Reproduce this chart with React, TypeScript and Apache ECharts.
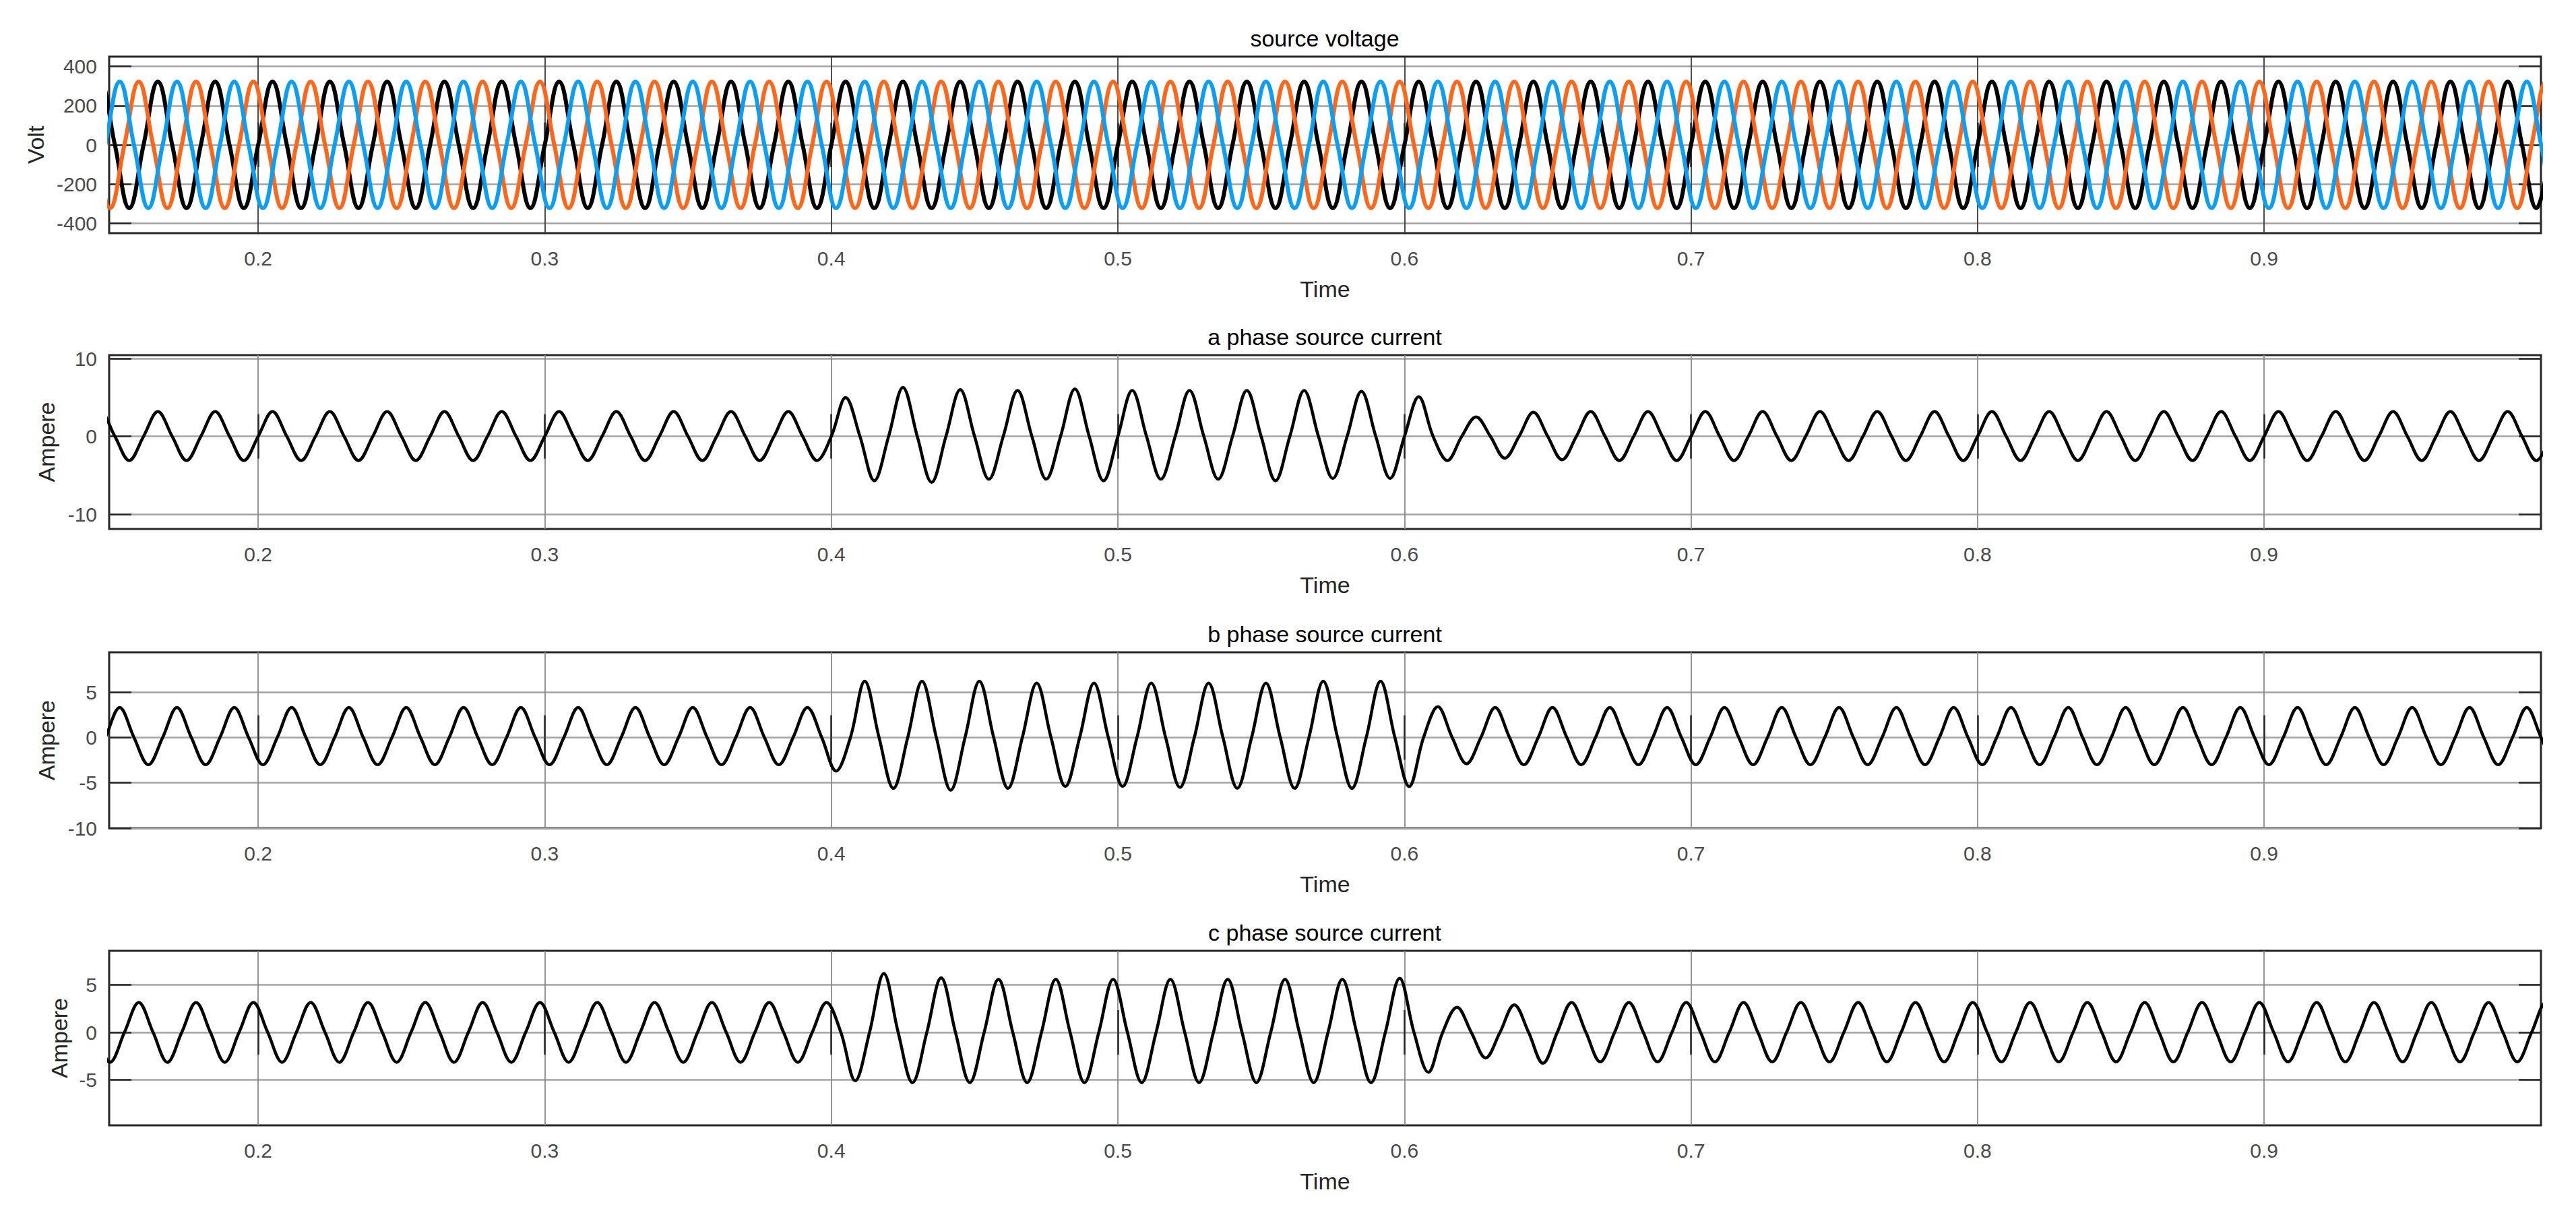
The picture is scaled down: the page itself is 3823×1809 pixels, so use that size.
import React, { useEffect, useRef } from "react";
import * as echarts from "echarts";

// ---------- data ----------
const PERIOD = 0.02; // 50 Hz
const FIRST_CYCLE = 6; // first listed cycle starts at t = 0.12 s
const X_MIN = 0.148;
const X_MAX = 0.9966;
const timeTicks = [0.2, 0.3, 0.4, 0.5, 0.6, 0.7, 0.8, 0.9];

// time of the positive peak inside each 20 ms cycle, per phase
const peakOffsetA = 0.005;
const peakOffsetB = 0.011667;
const peakOffsetC = 0.018333;

// source voltage: positive peak / negative peak of every cycle (V)
const vaTops = [322, 322, 322, 322, 322, 322, 322, 322, 322, 322, 322, 322, 322, 322, 322, 322, 322, 322, 322, 322, 322, 322, 322, 322, 322, 322, 322, 322, 322, 322, 322, 322, 322, 322, 322, 322, 322, 322, 322, 322, 322, 322, 322, 322];
const vaBottoms = [-322, -322, -322, -322, -322, -322, -322, -322, -322, -322, -322, -322, -322, -322, -322, -322, -322, -322, -322, -322, -322, -322, -322, -322, -322, -322, -322, -322, -322, -322, -322, -322, -322, -322, -322, -322, -322, -322, -322, -322, -322, -322, -322, -322];
const vbTops = [322, 322, 322, 322, 322, 322, 322, 322, 322, 322, 322, 322, 322, 322, 322, 322, 322, 322, 322, 322, 322, 322, 322, 322, 322, 322, 322, 322, 322, 322, 322, 322, 322, 322, 322, 322, 322, 322, 322, 322, 322, 322, 322, 322];
const vbBottoms = [-322, -322, -322, -322, -322, -322, -322, -322, -322, -322, -322, -322, -322, -322, -322, -322, -322, -322, -322, -322, -322, -322, -322, -322, -322, -322, -322, -322, -322, -322, -322, -322, -322, -322, -322, -322, -322, -322, -322, -322, -322, -322, -322, -322];
const vcTops = [322, 322, 322, 322, 322, 322, 322, 322, 322, 322, 322, 322, 322, 322, 322, 322, 322, 322, 322, 322, 322, 322, 322, 322, 322, 322, 322, 322, 322, 322, 322, 322, 322, 322, 322, 322, 322, 322, 322, 322, 322, 322, 322, 322];
const vcBottoms = [-322, -322, -322, -322, -322, -322, -322, -322, -322, -322, -322, -322, -322, -322, -322, -322, -322, -322, -322, -322, -322, -322, -322, -322, -322, -322, -322, -322, -322, -322, -322, -322, -322, -322, -322, -322, -322, -322, -322, -322, -322, -322, -322, -322];

// source currents: positive peak / negative peak of every cycle (A)
const iaTops = [
  3.2, 3.2, 3.2, 3.2, 3.2, 3.2, 3.2, 3.2, 3.2, 3.2, 3.2, 3.2, 3.2, 3.2,
  5.0, 6.3, 6.0, 5.9, 6.1, 5.9, 5.9, 5.9, 5.9, 5.8, 5.1,
  2.5, 3.1,
  3.2, 3.2, 3.2, 3.2, 3.2, 3.2, 3.2, 3.2, 3.2, 3.2, 3.2, 3.2, 3.2, 3.2, 3.2, 3.2, 3.2,
];
const iaBottoms = [
  -3.1, -3.1, -3.1, -3.1, -3.1, -3.1, -3.1, -3.1, -3.1, -3.1, -3.1, -3.1, -3.1, -3.1,
  -5.7, -5.9, -5.5, -5.5, -5.7, -5.5, -5.5, -5.7, -5.4, -5.4, -3.1, -2.8, -3.0,
  -3.1, -3.1, -3.1, -3.1, -3.1, -3.1, -3.1, -3.1, -3.1, -3.1, -3.1, -3.1, -3.1, -3.1, -3.1, -3.1, -3.1,
];
const ibTops = [
  3.3, 3.3, 3.3, 3.3, 3.3, 3.3, 3.3, 3.3, 3.3, 3.3, 3.3, 3.3, 3.3, 3.3,
  6.2, 6.2, 6.2, 6.0, 6.0, 6.0, 6.0, 6.0, 6.2, 6.2, 3.4,
  3.3, 3.3, 3.3, 3.3, 3.3, 3.3, 3.3, 3.3, 3.3, 3.3, 3.3, 3.3, 3.3, 3.3, 3.3, 3.3, 3.3, 3.3, 3.3,
];
const ibBottoms = [
  -3.0, -3.0, -3.0, -3.0, -3.0, -3.0, -3.0, -3.0, -3.0, -3.0, -3.0, -3.0, -3.0,
  -3.7, -5.6, -5.8, -5.6, -5.4, -5.4, -5.5, -5.6, -5.6, -5.6, -5.4, -2.9,
  -3.0, -3.0, -3.0, -3.0, -3.0, -3.0, -3.0, -3.0, -3.0, -3.0, -3.0, -3.0, -3.0, -3.0, -3.0, -3.0, -3.0, -3.0, -3.0,
];
const icTops = [
  3.15, 3.15, 3.15, 3.15, 3.15, 3.15, 3.15, 3.15, 3.15, 3.15, 3.15, 3.15, 3.15, 3.15,
  6.2, 5.75, 5.6, 5.6, 5.6, 5.6, 5.6, 5.6, 5.6, 5.7, 2.65, 2.9,
  3.15, 3.15, 3.15, 3.15, 3.15, 3.15, 3.15, 3.15, 3.15, 3.15, 3.15, 3.15, 3.15, 3.15, 3.15, 3.15, 3.15, 3.15,
];
const icBottoms = [
  -3.15, -3.15, -3.15, -3.15, -3.15, -3.15, -3.15, -3.15, -3.15, -3.15, -3.15, -3.15, -3.15,
  -5.1, -5.3, -5.3, -5.3, -5.3, -5.3, -5.3, -5.3, -5.3, -5.3, -4.2, -2.7, -3.25,
  -3.1, -3.1, -3.1, -3.1, -3.1, -3.1, -3.1, -3.1, -3.1, -3.1, -3.1, -3.1, -3.1, -3.1, -3.1, -3.1, -3.1, -3.1,
];

const voltageTicks = [-400, -200, 0, 200, 400];
const iaTicks = [-10, 0, 10];
const ibTicks = [-10, -5, 0, 5];
const icTicks = [-5, 0, 5];

// ---------- helpers ----------
// each cycle contributes its peak, zero crossing, trough and zero crossing
function wave(offset: number, tops: number[], bottoms: number[]) {
  const pts: [number, number][] = [];
  tops.forEach((top, i) => {
    const tPeak = (FIRST_CYCLE + i) * PERIOD + offset;
    pts.push([tPeak, top]);
    pts.push([tPeak + PERIOD / 4, 0]);
    pts.push([tPeak + PERIOD / 2, bottoms[i]]);
    pts.push([tPeak + (3 * PERIOD) / 4, 0]);
  });
  return pts;
}

const FONT = "'Liberation Sans', Arial, Helvetica, sans-serif";
const W = 3823;
const H = 1809;
const GRID_LEFT = 162;
const GRID_RIGHT = 52;
const PLOT_CENTER_X = 1966;

const panels = [
  { title: "source voltage", yName: "Volt", yMin: -450, yMax: 450, yTicks: voltageTicks, top: 84, height: 262, nameGap: 92, vGrid: "#3a3a3a" },
  { title: "a phase source current", yName: "Ampere", yMin: -11.9, yMax: 10.45, yTicks: iaTicks, top: 527, height: 258, nameGap: 76, vGrid: "#8a8a8a" },
  { title: "b phase source current", yName: "Ampere", yMin: -10, yMax: 9.4, yTicks: ibTicks, top: 968, height: 261, nameGap: 76, vGrid: "#8a8a8a" },
  { title: "c phase source current", yName: "Ampere", yMin: -9.8, yMax: 8.6, yTicks: icTicks, top: 1411, height: 259, nameGap: 57, vGrid: "#8a8a8a" },
];

const TICK_STYLE = { color: "#262626", width: 2.5 };

export default function App() {
  const ref = useRef<HTMLDivElement>(null);

  useEffect(() => {
    if (!ref.current) return;
    const chart = echarts.init(ref.current, undefined, { renderer: "svg" });

    const grid: any[] = [];
    const xAxis: any[] = [];
    const yAxis: any[] = [];
    const graphic: any[] = [];

    panels.forEach((p, g) => {
      grid.push({
        left: GRID_LEFT,
        right: GRID_RIGHT,
        top: p.top,
        height: p.height,
        show: true,
        borderColor: "#262626",
        borderWidth: 3,
        backgroundColor: "#ffffff",
      });
      xAxis.push({
        type: "value",
        gridIndex: g,
        position: "bottom",
        min: X_MIN,
        max: X_MAX,
        axisLine: { show: false },
        axisTick: { show: true, inside: true, length: 33, lineStyle: TICK_STYLE, customValues: timeTicks },
        axisLabel: {
          show: true,
          customValues: timeTicks,
          fontSize: 30,
          fontFamily: FONT,
          color: "#4a4a4a",
          margin: 22,
        },
        splitLine: { show: true, lineStyle: { color: p.vGrid, width: 1.8 } },
        name: "Time",
        nameLocation: "middle",
        nameGap: 66,
        nameTextStyle: { fontSize: 34, fontFamily: FONT, color: "#262626" },
      });
      xAxis.push({
        type: "value",
        gridIndex: g,
        position: "top",
        min: X_MIN,
        max: X_MAX,
        axisLine: { show: false },
        axisTick: { show: true, inside: true, length: 33, lineStyle: TICK_STYLE, customValues: timeTicks },
        axisLabel: { show: false },
        splitLine: { show: false },
      });
      yAxis.push({
        type: "value",
        gridIndex: g,
        position: "left",
        min: p.yMin,
        max: p.yMax,
        axisLine: { show: false },
        axisTick: { show: true, inside: true, length: 33, lineStyle: TICK_STYLE, customValues: p.yTicks },
        axisLabel: {
          show: true,
          customValues: p.yTicks,
          fontSize: 30,
          fontFamily: FONT,
          color: "#4a4a4a",
          margin: 18,
        },
        splitLine: { show: true, lineStyle: { color: "#a3a3a3", width: 2.5 } },
        name: p.yName,
        nameLocation: "middle",
        nameGap: p.nameGap,
        nameTextStyle: { fontSize: 34, fontFamily: FONT, color: "#262626" },
      });
      yAxis.push({
        type: "value",
        gridIndex: g,
        position: "right",
        min: p.yMin,
        max: p.yMax,
        axisLine: { show: false },
        axisTick: { show: true, inside: true, length: 33, lineStyle: TICK_STYLE, customValues: p.yTicks },
        axisLabel: { show: false },
        splitLine: { show: false },
      });
      graphic.push({
        type: "text",
        x: PLOT_CENTER_X,
        y: p.top - 27,
        style: {
          text: p.title,
          fontSize: 34,
          fontFamily: FONT,
          fill: "#000000",
          align: "center",
          verticalAlign: "middle",
        },
        silent: true,
      });
    });

    const line = (name: string, g: number, data: [number, number][], color: string, width: number, smooth: number) => ({
      name,
      type: "line",
      xAxisIndex: g * 2,
      yAxisIndex: g * 2,
      data,
      showSymbol: false,
      symbol: "none",
      smooth,
      clip: true,
      silent: true,
      lineStyle: { color, width },
      z: 3,
    });

    const series = [
      line("Va", 0, wave(peakOffsetA, vaTops, vaBottoms), "#000000", 6, 0.42),
      line("Vc", 0, wave(peakOffsetC, vcTops, vcBottoms), "#ff661a", 6, 0.42),
      line("Vb", 0, wave(peakOffsetB, vbTops, vbBottoms), "#0a9ff5", 6, 0.42),
      line("Ia", 1, wave(peakOffsetA, iaTops, iaBottoms), "#000000", 4.5, 0.36),
      line("Ib", 2, wave(peakOffsetB, ibTops, ibBottoms), "#000000", 4.5, 0.36),
      line("Ic", 3, wave(peakOffsetC, icTops, icBottoms), "#000000", 4.5, 0.36),
    ];

    chart.setOption({
      animation: false,
      backgroundColor: "#ffffff",
      textStyle: { fontFamily: FONT },
      grid,
      xAxis,
      yAxis,
      series,
      graphic,
    });

    return () => {
      chart.dispose();
    };
  }, []);

  return (
    <div
      ref={ref}
      style={{ position: "fixed", left: 0, top: 0, width: W, height: H, background: "#ffffff" }}
    />
  );
}
